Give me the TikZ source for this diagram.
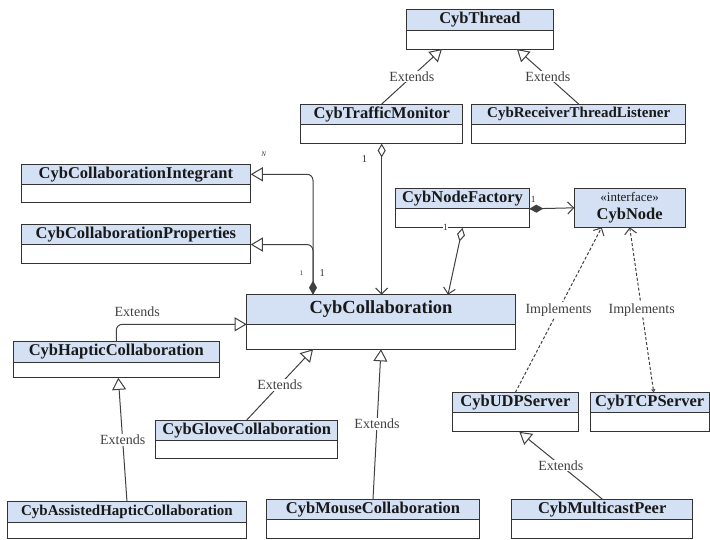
\documentclass[tikz,border=0pt]{standalone}
\usepackage{fontspec}
\setmainfont{Liberation Serif}
\usetikzlibrary{arrows.meta, positioning}
\definecolor{headblue}{HTML}{D4E1F5}
\tikzset{
    chead/.style={draw=black!80,fill=headblue,minimum height=20.5pt,inner sep=0pt,outer sep=0pt,
        text=black!90,font=\fontsize{16.5}{18}\selectfont\bfseries},
    smallhead/.style={font=\fontsize{15}{16}\selectfont\bfseries},
    bighead/.style={font=\fontsize{18.5}{20}\selectfont\bfseries},
    cbody/.style={draw=black!80,fill=white,minimum height=19pt,inner sep=0pt,outer sep=0pt},
    lbl/.style={fill=white,inner sep=1pt,text=black!75,font=\fontsize{14}{14}\selectfont},
    mult/.style={inner sep=1pt,text=black!80,font=\fontsize{9.5}{10}\selectfont},
    extends/.style={draw=black!75,-{Triangle[open,length=12pt,width=14pt,fill=white]}},
    implements/.style={draw=black!75,dash pattern=on 3pt off 2pt,-{Straight Barb[length=6pt,width=12pt]}},
    aggr/.style={draw=black!75,{Diamond[open,length=14pt,width=8pt,fill=white]}-{Straight Barb[length=6pt,width=12pt]}},
    compose/.style={draw=black!75,{Diamond[length=14pt,width=8pt]}-{Straight Barb[length=6pt,width=12pt]}},
    ownext/.style={draw=black!75,rounded corners=6pt,{Diamond[length=14pt,width=8pt]}-{Triangle[open,length=12pt,width=14pt,fill=white]}},
}
\begin{document}
\begin{tikzpicture}[x=1pt,y=-1pt,line width=1pt]
\useasboundingbox (0,0) rectangle (710,539);
% classes
\node[chead,minimum width=146.3pt] (thread) at (479.9,19.8) {CybThread};
\node[cbody,minimum width=146.3pt,below=0pt of thread] (thread-b) {};
\node[chead,minimum width=162pt] (traffic) at (381.7,114.3) {CybTrafficMonitor};
\node[cbody,minimum width=162pt,below=0pt of traffic] (traffic-b) {};
\node[chead,smallhead,minimum width=214pt] (receiver) at (578.7,114.3) {CybReceiverThreadListener};
\node[cbody,minimum width=214pt,below=0pt of receiver] (receiver-b) {};
\node[chead,minimum width=229.7pt] (integrant) at (135.9,174.3) {CybCollaborationIntegrant};
\node[cbody,minimum width=229.7pt,minimum height=18pt,below=0pt of integrant] (integrant-b) {};
\node[chead,minimum width=229.7pt] (props) at (135.9,234.3) {CybCollaborationProperties};
\node[cbody,minimum width=229.7pt,below=0pt of props] (props-b) {};
\node[chead,minimum width=133.6pt] (factory) at (462.5,198.6) {CybNodeFactory};
\node[cbody,minimum width=133.6pt,below=0pt of factory] (factory-b) {};
\node[chead,minimum width=110.7pt,minimum height=39pt,align=center] (cybnode) at (629.7,207.8)
    {{\fontsize{13}{14}\selectfont\mdseries «interface»}\\CybNode};
\node[chead,bighead,minimum width=268.6pt,minimum height=29.6pt] (collab) at (381,309.5) {CybCollaboration};
\node[cbody,minimum width=268.6pt,minimum height=25pt,below=0pt of collab] (collab-b) {};
\node[chead,minimum width=206pt] (haptic) at (116.3,352) {CybHapticCollaboration};
\node[cbody,minimum width=206pt,minimum height=15.6pt,below=0pt of haptic] (haptic-b) {};
\node[chead,minimum width=182pt] (glove) at (246.7,430.3) {CybGloveCollaboration};
\node[cbody,minimum width=182pt,minimum height=18.3pt,below=0pt of glove] (glove-b) {};
\node[chead,minimum width=126.7pt] (udp) at (515.4,402.6) {CybUDPServer};
\node[cbody,minimum width=126.7pt,below=0pt of udp] (udp-b) {};
\node[chead,minimum width=118.7pt] (tcp) at (649.7,402.6) {CybTCPServer};
\node[cbody,minimum width=118.7pt,below=0pt of tcp] (tcp-b) {};
\node[chead,smallhead,minimum width=239.4pt] (assisted) at (127,512) {CybAssistedHapticCollaboration};
\node[cbody,minimum width=239.4pt,minimum height=16.2pt,below=0pt of assisted] (assisted-b) {};
\node[chead,minimum width=212.6pt] (mouse) at (373,509.3) {CybMouseCollaboration};
\node[cbody,minimum width=212.6pt,minimum height=18.5pt,below=0pt of mouse] (mouse-b) {};
\node[chead,minimum width=181pt] (multicast) at (602.2,509.3) {CybMulticastPeer};
\node[cbody,minimum width=181pt,minimum height=18.5pt,below=0pt of multicast] (multicast-b) {};
% generalisations
\draw[extends] (traffic.north) -- node[lbl] {Extends} ([xshift=-38pt]thread-b.south);
\draw[extends] (receiver.north) -- node[lbl] {Extends} ([xshift=37pt]thread-b.south);
\draw[extends,rounded corners=6pt] (haptic.north) |- node[lbl,fill=none,pos=0.58,above=6pt] {Extends} (collab.south west);
\draw[extends] (assisted.north) -- node[lbl] {Extends} ([xshift=2pt]haptic-b.south);
\draw[extends] (glove.north) -- node[lbl] {Extends} ([xshift=-68pt]collab-b.south);
\draw[extends] (mouse.north) -- node[lbl] {Extends} (collab-b.south);
\draw[extends] (multicast.north) -- node[lbl] {Extends} ([xshift=4pt]udp-b.south);
% collaboration parts
\draw[extends,rounded corners=6pt] ([xshift=-68pt]collab.north) |- (props.south east);
\draw[ownext] ([xshift=-68pt]collab.north) |-
    node[mult,pos=0.09,left=8.5pt,font=\fontsize{7}{7}\selectfont] {1}
    node[mult,pos=0.09,right=5pt,font=\fontsize{10.5}{11}\selectfont] {1} (integrant.east)
    node[mult,anchor=south west,xshift=9pt,yshift=16pt,font=\fontsize{7}{7}\selectfont\itshape] {N};
\draw[aggr] (traffic-b.south) -- (traffic-b.south |- collab.north)
    node[mult,pos=0.1,left=13pt,font=\fontsize{10.5}{11}\selectfont] {1};
\draw[aggr] (factory-b.south) -- node[mult,pos=0,xshift=-17pt,fill=white,inner sep=0.5pt] {1} ([xshift=67pt]collab.north);
\draw[compose] (factory.south east) -- node[mult,pos=0,anchor=south west,yshift=5pt] {1} (cybnode.west);
% realisations
\draw[implements] (udp.north) -- node[lbl] {Implements} ([xshift=-28pt]cybnode.south);
\draw[implements,{Triangle[open,length=3pt,width=4pt]}-{Straight Barb[length=6pt,width=12pt]}]
    ([xshift=4pt]tcp.north) -- node[lbl] {Implements} (cybnode.south);
\end{tikzpicture}
\end{document}
